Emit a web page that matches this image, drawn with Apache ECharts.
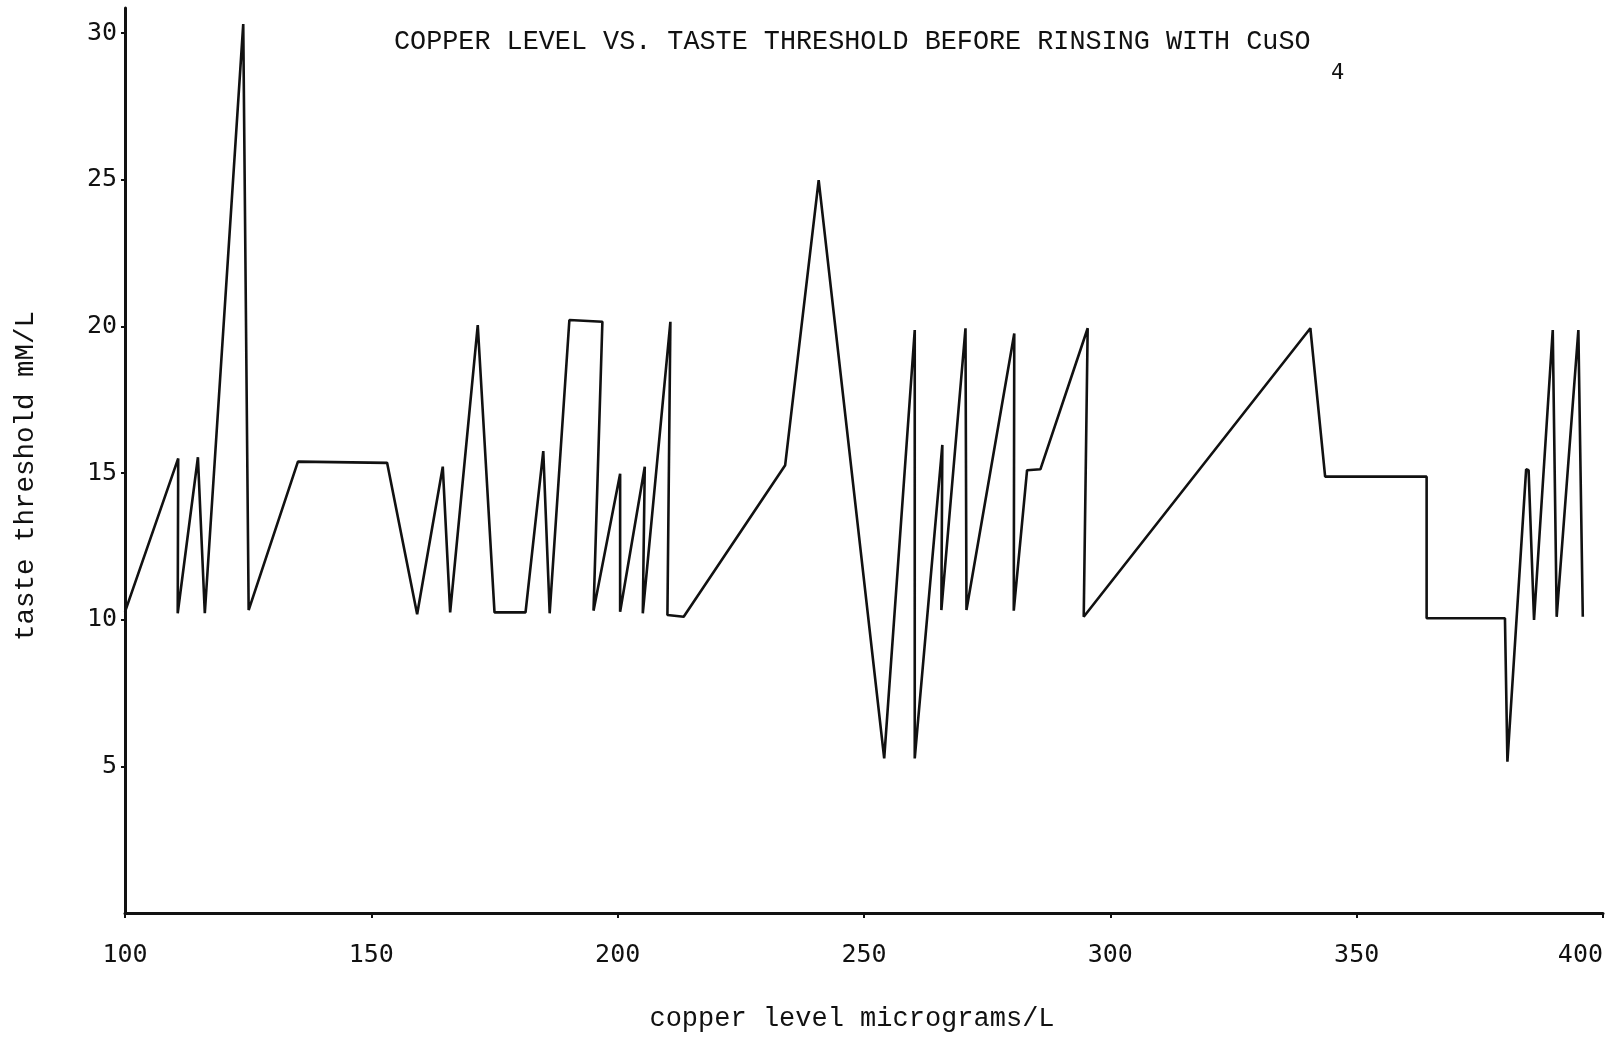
<!DOCTYPE html>
<html>
<head>
<meta charset="utf-8">
<script src="https://cdn.jsdelivr.net/npm/echarts@6/dist/echarts.min.js"></script>
<style>
html,body{margin:0;padding:0;background:#fff;}
#chart{width:1606px;height:1041px;}
</style>
</head>
<body>
<div id="chart"></div>
<script>
const copperLevel = [100, 110.8, 110.7, 114.8, 116.2, 124.0, 125.1, 135.1, 153.2, 159.3, 164.5, 166.0, 171.6, 175.0, 181.3, 184.9, 186.2, 190.2, 196.9, 195.1, 200.5, 200.5, 205.5, 205.1, 210.7, 210.1, 213.4, 234.0, 240.8, 254.1, 260.3, 260.3, 265.9, 265.7, 270.6, 270.8, 280.5, 280.4, 283.1, 285.8, 295.4, 294.6, 340.6, 343.6, 364.2, 364.2, 380.1, 380.6, 384.4, 384.9, 386.0, 389.8, 390.6, 395.0, 395.9];
const tasteThreshold = [10.27, 15.50, 10.22, 15.54, 10.22, 30.31, 10.33, 15.39, 15.35, 10.19, 15.22, 10.25, 20.05, 10.25, 10.25, 15.75, 10.22, 20.22, 20.16, 10.31, 14.98, 10.27, 15.22, 10.22, 20.16, 10.16, 10.10, 15.27, 24.99, 5.27, 19.88, 5.27, 15.96, 10.33, 19.94, 10.33, 19.76, 10.31, 15.10, 15.13, 19.94, 10.10, 19.94, 14.88, 14.88, 10.05, 10.05, 5.16, 15.13, 15.10, 9.99, 19.88, 10.10, 19.88, 10.10];
const xTicks = [100, 150, 200, 250, 300, 350, 400];
const yTicks = [5, 10, 15, 20, 25, 30];
const titleText = 'COPPER LEVEL VS. TASTE THRESHOLD BEFORE RINSING WITH CuSO';
const titleSub = '4';
const xName = 'copper level micrograms/L';
const yName = 'taste threshold mM/L';

const seriesData = copperLevel.map((x, i) => [x, tasteThreshold[i]]);
const ink = '#111';
const typeFont = 'Liberation Mono';
const labelFont = 'DejaVu Sans Mono';

const chart = echarts.init(document.getElementById('chart'));
chart.setOption({
  backgroundColor: '#fff',
  animation: false,
  title: [
    { text: titleText, left: 389, top: 23, textStyle: { fontFamily: typeFont, fontSize: 26.8, fontWeight: 'normal', color: ink } },
    { text: titleSub, left: 1326, top: 57, textStyle: { fontFamily: labelFont, fontSize: 22, fontWeight: 'normal', color: ink } }
  ],
  graphic: [
    { type: 'text', x: 26, y: 476, rotation: Math.PI / 2,
      style: { text: yName, fontFamily: typeFont, fontSize: 27.5, fill: ink, align: 'center', verticalAlign: 'middle' } },
    { type: 'text', x: 852, y: 1019,
      style: { text: xName, fontFamily: typeFont, fontSize: 27, fill: ink, align: 'center', verticalAlign: 'middle' } }
  ],
  grid: { left: 125, right: 2, top: 8, bottom: 128, containLabel: false },
  xAxis: {
    type: 'value', min: 100, max: 400,
    axisLine: { lineStyle: { color: ink, width: 3 } },
    axisTick: { show: true, length: 5, lineStyle: { color: ink, width: 2 }, customValues: xTicks },
    axisLabel: { customValues: xTicks, fontFamily: labelFont, fontSize: 25, color: ink, margin: 30, alignMaxLabel: 'right' },
    splitLine: { show: false }
  },
  yAxis: {
    type: 'value', min: 0, max: 30.86,
    axisLine: { show: true, lineStyle: { color: ink, width: 3 } },
    axisTick: { show: true, length: 4, lineStyle: { color: ink, width: 2 }, customValues: yTicks },
    axisLabel: { customValues: yTicks, fontFamily: labelFont, fontSize: 25, color: ink, margin: 8 },
    splitLine: { show: false }
  },
  series: [{
    type: 'line',
    data: seriesData,
    showSymbol: false,
    symbol: 'none',
    lineStyle: { color: ink, width: 2.6 },
    clip: false
  }]
});
</script>
</body>
</html>
